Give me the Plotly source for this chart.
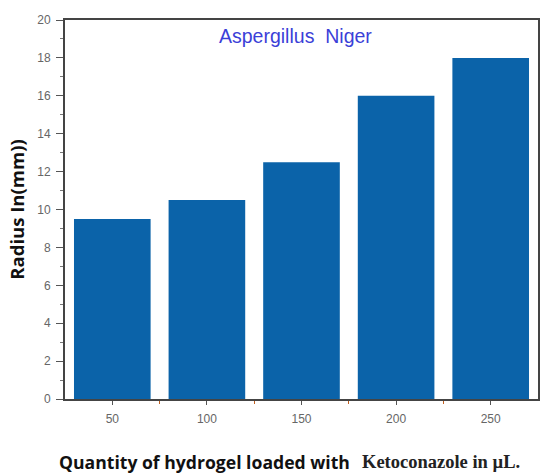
import plotly.graph_objects as go

categories = [50, 100, 150, 200, 250]
radius = [9.5, 10.5, 12.5, 16.0, 18.0]
y_ticks = list(range(0, 21, 2))

fig = go.Figure(go.Bar(x=categories, y=radius, marker=dict(color="#0b63a9", line=dict(width=0)), width=40.5))

fig.update_layout(
    width=542, height=473,
    margin=dict(l=65, r=2, t=20, b=74),
    paper_bgcolor="white", plot_bgcolor="white",
    showlegend=False,
    font=dict(family="Arial, Liberation Sans, sans-serif"),
)
fig.update_xaxes(
    range=[25, 275], tickvals=categories, ticktext=[str(c) for c in categories],
    ticks="outside", ticklen=4, tickcolor="#555", tickfont=dict(size=12, color="#666"),
    ticklabelstandoff=4,
    showline=True, linecolor="#444", linewidth=2, mirror=True, showgrid=False, zeroline=False,
    minor=dict(tickvals=[75, 125, 175, 225], ticks="outside", ticklen=3, tickcolor="#c06020"),
)
fig.update_yaxes(
    range=[0, 20], tickvals=y_ticks,
    ticks="outside", ticklen=7, tickcolor="#555", tickfont=dict(size=12, color="#666"),
    ticklabelstandoff=3,
    showline=True, linecolor="#444", linewidth=2, mirror=True, showgrid=False, zeroline=False,
    minor=dict(dtick=1, ticks="outside", ticklen=3, tickcolor="#777"),
    title=dict(text="<b>Radius In(mm))</b>", font=dict(size=18.5, color="#111", family="Open Sans, sans-serif"), standoff=8),
)
fig.add_annotation(x=0.488, y=0.958, xref="paper", yref="paper", text="Aspergillus  Niger",
                   showarrow=False, yanchor="middle", font=dict(size=19.5, color="#3b3fd8"))
fig.add_annotation(x=-0.0168, y=-0.166, xref="paper", yref="paper", xanchor="left", yanchor="middle",
                   text="<b>Quantity of hydrogel loaded with</b>", showarrow=False,
                   font=dict(size=17.6, color="#111", family="Open Sans, sans-serif"))
fig.add_annotation(x=0.623, y=-0.166, xref="paper", yref="paper", xanchor="left", yanchor="middle",
                   text="<b>Ketoconazole in µL.</b>", showarrow=False,
                   font=dict(size=18.5, color="#222", family="Liberation Serif, serif"))

fig.write_html("out.html", config={"displayModeBar": False},
               post_script="document.body.style.margin='0';")
